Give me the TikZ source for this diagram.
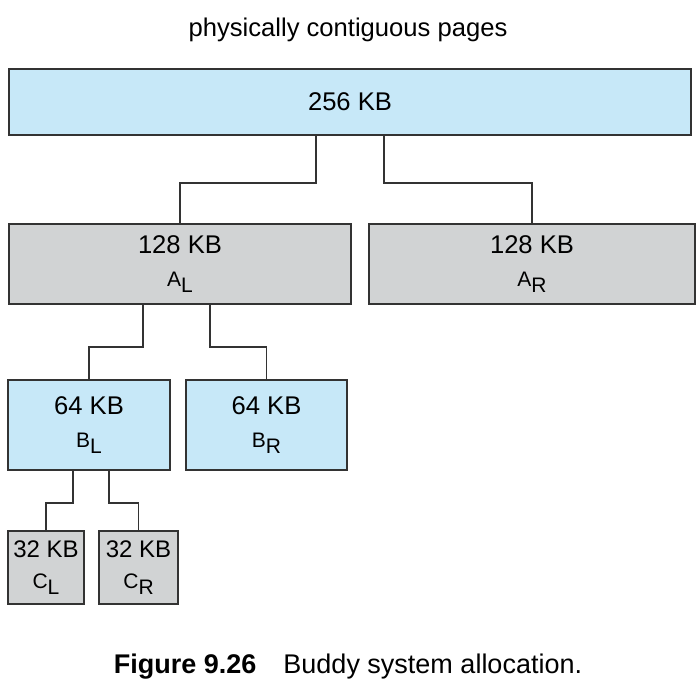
\documentclass[tikz,border=0pt]{standalone}
\usepackage{fontspec}
\setmainfont{Liberation Sans}

\definecolor{blockblue}{RGB}{199,232,248}
\definecolor{blockgray}{RGB}{209,211,212}
\definecolor{edgegray}{RGB}{51,51,51}

\newcommand{\half}[2]{{\fontsize{10.5}{12}\selectfont #1\raisebox{-0.6ex}{#2}}}

\tikzset{
  block/.style={draw=edgegray, line width=0.8pt, inner sep=0pt, align=center, font=\fontsize{12.8}{14}\selectfont},
  blueblock/.style={block, fill=blockblue},
  grayblock/.style={block, fill=blockgray},
  smallblock/.style={grayblock, font=\fontsize{12}{13.5}\selectfont},
  link/.style={draw=edgegray, line width=0.8pt}
}

\begin{document}
\begin{tikzpicture}[x=0.5pt, y=-0.5pt]
\useasboundingbox (0,0) rectangle (700,691);

\node (title) at (348,30) {\fontsize{12.8}{14}\selectfont physically contiguous pages};

\node[blueblock, minimum width=341pt, minimum height=33pt] (whole) at (350,102) {256 KB};

\node[grayblock, minimum width=171pt, minimum height=40pt] (AL) at (180,264) {128 KB\\[2.5pt]\half{A}{L}};
\node[grayblock, minimum width=163pt, minimum height=40pt] (AR) at (532,264) {128 KB\\[2.5pt]\half{A}{R}};

\node[blueblock, minimum width=81pt, minimum height=45pt] (BL) at (89,425) {64 KB\\[2.5pt]\half{B}{L}};
\node[blueblock, minimum width=80.5pt, minimum height=45pt] (BR) at (266.5,425) {64 KB\\[2.5pt]\half{B}{R}};

\node[smallblock, minimum width=38pt, minimum height=36.5pt] (CL) at (46,567.5) {32 KB\\[2pt]\half{C}{L}};
\node[smallblock, minimum width=39.5pt, minimum height=36.5pt] (CR) at (138.5,567.5) {32 KB\\[2pt]\half{C}{R}};

% splits
\draw[link] ([xshift=-17pt]whole.south) -- ++(0,47) -| (AL.north);
\draw[link] ([xshift=17pt]whole.south) -- ++(0,47) -| (AR.north);

\draw[link] ([xshift=-18.5pt]AL.south) -- ++(0,42) -| (BL.north);
\draw[link] ([xshift=15pt]AL.south) -- ++(0,42) -| (BR.north);

\draw[link] ([xshift=-8pt]BL.south) -- ++(0,32) -| (CL.north);
\draw[link] ([xshift=10pt]BL.south) -- ++(0,32) -| (CR.north);

\node (caption) at (348,667) {\fontsize{13.5}{15}\selectfont\textbf{Figure 9.26}\hspace{1em}Buddy system allocation.};
\end{tikzpicture}
\end{document}
